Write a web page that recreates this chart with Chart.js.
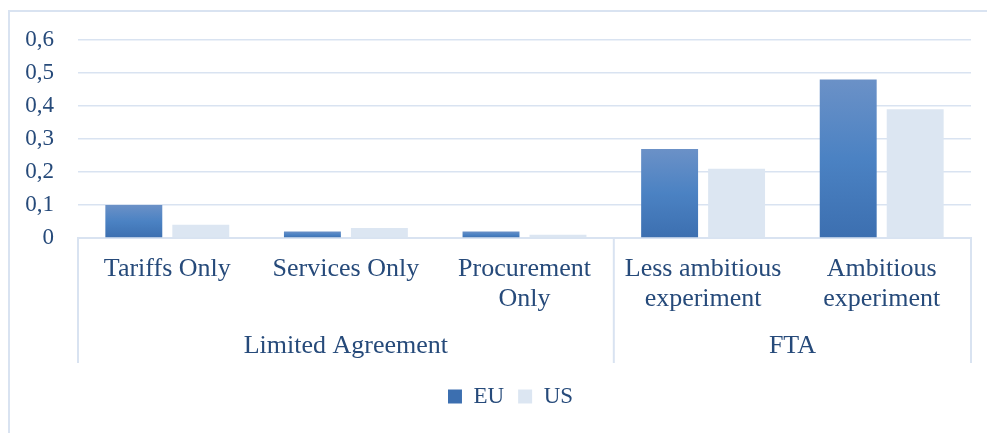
<!DOCTYPE html>
<html>
<head>
<meta charset="utf-8">
<script src="https://cdn.jsdelivr.net/npm/chart.js@4.4.1/dist/chart.umd.min.js"></script>
<style>
  html, body { margin: 0; padding: 0; background: #fff; overflow: hidden; }
  #frame {
    position: absolute; left: 8px; top: 10px;
    width: 1000px; height: 460px;
    border: 2px solid #d9e3f1; box-sizing: border-box;
  }
  #wrap { position: absolute; left: 0; top: 0; width: 987px; height: 433px; }
</style>
</head>
<body>
<div id="frame"></div>
<div id="wrap"><canvas id="chart"></canvas></div>
<script>
// Data
const categories = [
  ['Tariffs Only'],
  ['Services Only'],
  ['Procurement', 'Only'],
  ['Less ambitious', 'experiment'],
  ['Ambitious', 'experiment']
];
const groupLabels = ['Limited Agreement', 'FTA'];
const groupSizes = [3, 2];
const euValues = [0.10, 0.02, 0.02, 0.27, 0.48];
const usValues = [0.04, 0.03, 0.01, 0.21, 0.39];
const yTicks = [0, 0.1, 0.2, 0.3, 0.4, 0.5, 0.6];

const TEXT = '#264a7a';
const LINE = '#d9e3f1';
const FONT = '"Liberation Serif", "Times New Roman", serif';

Chart.defaults.font.family = FONT;
Chart.defaults.font.size = 23;
Chart.defaults.color = TEXT;

// vertical gradient for the EU bars, like the Excel fill
function euFill(context) {
  const chart = context.chart;
  if (context.type !== 'data' || !chart.chartArea) return '#4c7dbd';
  const y = chart.scales.y;
  const top = y.getPixelForValue(context.raw);
  const bottom = y.getPixelForValue(0);
  const g = chart.ctx.createLinearGradient(0, top, 0, bottom);
  g.addColorStop(0, '#6b91c7');
  g.addColorStop(0.5, '#4b82c3');
  g.addColorStop(1, '#3c6fb0');
  return g;
}

// group row under the category labels
const groupAxis = {
  id: 'groupAxis',
  afterLayout(chart) {
    // Excel centres the legend a bit to the right of the plot centre
    if (chart.legend) {
      chart.legend.left += 21;
      chart.legend.right += 21;
    }
  },
  afterDraw(chart) {
    const x = chart.scales.x;
    const ctx = chart.ctx;
    const half = (x.getPixelForTick(1) - x.getPixelForTick(0)) / 2;
    const top = x.top;
    const bottom = x.top + 125;
    ctx.save();
    ctx.strokeStyle = LINE;
    ctx.lineWidth = 2;
    ctx.fillStyle = TEXT;
    ctx.font = '26px ' + FONT;
    ctx.textAlign = 'center';
    ctx.textBaseline = 'middle';
    let start = 0;
    const edges = [x.getPixelForTick(0) - half];
    groupSizes.forEach((n, i) => {
      const left = x.getPixelForTick(start) - half;
      const right = x.getPixelForTick(start + n - 1) + half;
      edges.push(right);
      ctx.fillText(groupLabels[i], (left + right) / 2, top + 108);
      start += n;
    });
    edges.forEach(px => {
      ctx.beginPath();
      ctx.moveTo(px, top);
      ctx.lineTo(px, bottom);
      ctx.stroke();
    });
    ctx.restore();
  }
};

new Chart(document.getElementById('chart'), {
  type: 'bar',
  data: {
    labels: categories,
    datasets: [
      {
        label: 'EU',
        data: euValues,
        backgroundColor: euFill,
        categoryPercentage: 0.75,
        barPercentage: 0.85
      },
      {
        label: 'US',
        data: usValues,
        backgroundColor: '#dce6f2',
        categoryPercentage: 0.75,
        barPercentage: 0.85
      }
    ]
  },
  options: {
    responsive: true,
    maintainAspectRatio: false,
    animation: false,
    layout: {
      padding: { left: 8, right: 16, top: 40, bottom: 15 }
    },
    plugins: {
      legend: {
        position: 'bottom',
        labels: {
          boxWidth: 14,
          boxHeight: 14,
          padding: 14,
          font: { size: 23 },
          color: TEXT
        }
      },
      tooltip: { enabled: false }
    },
    scales: {
      x: {
        grid: { display: false, drawTicks: false },
        border: { color: LINE, width: 2 },
        ticks: {
          padding: 16,
          maxRotation: 0,
          autoSkip: false,
          font: { size: 26, lineHeight: 1.15 }
        },
        afterFit(scale) { scale.height = 133; }
      },
      y: {
        min: 0,
        max: 0.6,
        afterBuildTicks(scale) {
          scale.ticks = yTicks.map(v => ({ value: v }));
        },
        grid: { color: LINE, lineWidth: 1.5, drawTicks: false },
        border: { display: false },
        ticks: {
          padding: 24,
          callback: v => v === 0 ? '0' : v.toFixed(1).replace('.', ',')
        },
        afterFit(scale) { scale.width = 70; }
      }
    }
  },
  plugins: [groupAxis]
});
</script>
</body>
</html>
